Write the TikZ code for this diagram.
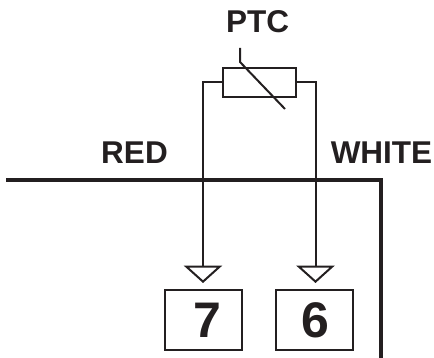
\documentclass[tikz,border=0pt]{standalone}
\usepackage{fontspec}
\setmainfont{Liberation Sans}
\usepackage{tikz}
\usetikzlibrary{shapes.geometric,positioning}
\definecolor{ink}{HTML}{231F20}

\begin{document}
\begin{tikzpicture}[x=1pt,y=1pt,node distance=6pt,color=ink,text=ink]
        \tikzstyle{label}=[font=\fontsize{31.5}{32}\selectfont\bfseries, inner sep=0pt]
        \tikzstyle{resistor}=[rectangle, draw=ink, line width=2pt, minimum width=73pt, minimum height=29pt, inner sep=0pt]
        \tikzstyle{terminal}=[rectangle, draw=ink, line width=2pt, minimum width=77pt, minimum height=60pt, inner sep=0pt, font=\fontsize{50}{50}\selectfont\bfseries]
        \tikzstyle{pin}=[isosceles triangle, isosceles triangle apex angle=96, shape border rotate=-90, draw=ink, line width=2pt, minimum height=15pt, inner sep=0pt, anchor=apex]
        \useasboundingbox (0,0) rectangle (434,-358);

        % Terminals
        \node (seven) [terminal] at (203,-320) {\hspace{8pt}7};
        \node (six) [terminal, right = 32pt of seven] {\hspace{2pt}6};

        % Pins
        \node (pinseven) [pin, above = of seven.north, anchor=apex] {};
        \node (pinsix) [pin, above = of six.north, anchor=apex, xshift=1.5pt] {};

        % Resistor
        \node (ptc) [resistor] at (259.5,-82.5) {};

        % Labels
        \node (name) [label] at (257.5,-22) {PTC};
        \node (red) [label] at (134.5,-153) {RED};
        \node (white) [label] at (381.5,-153) {WHITE};

        % Case outline
        \coordinate (casea) at (6,-180);
        \coordinate (caseb) at (381,-180);
        \coordinate (casec) at (381,-358);
        \draw[line width=3.5pt] (casea) -- (caseb) -- (casec);

        % Adjust mark
        \coordinate (marka) at (240,-48);
        \coordinate (markb) at (240,-62);
        \coordinate (markc) at (285,-109);
        \draw[line width=2pt] (marka) -- (markb) -- (markc);

        % Leads
        \draw[line width=2pt] (ptc.west) -| (pinseven.lower side);
        \draw[line width=2pt] (ptc.east) -| (pinsix.lower side);
    \end{tikzpicture}
\end{document}
